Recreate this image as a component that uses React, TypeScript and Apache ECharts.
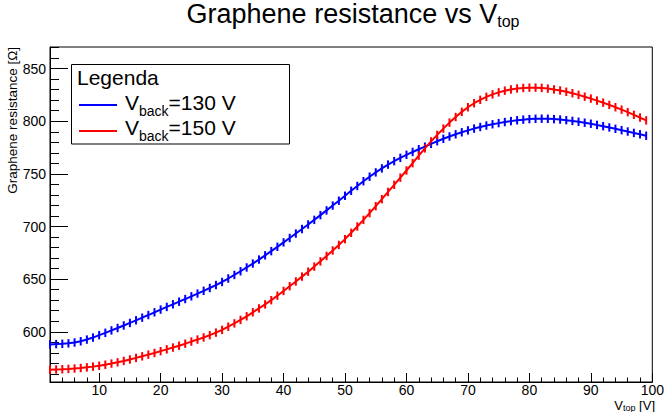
import React, { useEffect, useRef } from 'react';
import * as echarts from 'echarts';

// V_top values [V]
const vTop = [
  2, 3, 4, 5, 6, 7, 8, 9, 10, 11, 12, 13, 14, 15, 16, 17, 18, 19, 20,
  21, 22, 23, 24, 25, 26, 27, 28, 29, 30, 31, 32, 33, 34, 35, 36, 37, 38, 39, 40,
  41, 42, 43, 44, 45, 46, 47, 48, 49, 50, 51, 52, 53, 54, 55, 56, 57, 58, 59, 60,
  61, 62, 63, 64, 65, 66, 67, 68, 69, 70, 71, 72, 73, 74, 75, 76, 77, 78, 79, 80,
  81, 82, 83, 84, 85, 86, 87, 88, 89, 90, 91, 92, 93, 94, 95, 96, 97, 98, 99,
];

// Graphene resistance [Ω] at V_back = 130 V
const rBack130 = [
  588.0, 588.3, 588.6, 589.0, 589.8, 591.0, 592.6, 594.5, 596.8, 599.0, 601.3, 603.6, 606.0, 608.4, 610.9, 613.4, 615.9, 618.5, 621.1,
  623.6, 626.1, 628.6, 631.1, 633.7, 636.3, 638.9, 641.6, 644.4, 647.3, 650.6, 654.0, 657.5, 661.1, 664.8, 668.6, 672.6, 676.6, 680.7, 684.9,
  689.1, 693.3, 697.6, 701.9, 706.3, 710.8, 715.3, 719.9, 724.5, 729.2, 733.9, 738.5, 743.0, 747.3, 751.4, 755.2, 758.8, 762.1, 765.2, 768.1,
  770.8, 773.4, 775.8, 778.5, 781.0, 783.3, 785.5, 787.6, 789.5, 791.3, 793.0, 794.5, 795.9, 797.1, 798.2, 799.2, 800.1, 800.9, 801.5, 802.0,
  802.3, 802.4, 802.3, 802.0, 801.6, 801.0, 800.3, 799.5, 798.6, 797.6, 796.5, 795.3, 794.1, 792.8, 791.5, 790.2, 788.9, 787.6, 786.2,
];

// Graphene resistance [Ω] at V_back = 150 V
const rBack150 = [
  564.0, 564.2, 564.4, 564.7, 565.1, 565.6, 566.2, 566.9, 567.7, 568.7, 569.8, 571.0, 572.3, 573.7, 575.2, 576.7, 578.3, 579.9, 581.6,
  583.3, 585.0, 586.8, 588.7, 590.7, 592.6, 594.6, 596.8, 599.2, 601.8, 604.8, 608.0, 611.3, 614.7, 618.5, 622.2, 626.0, 630.0, 634.3, 638.8,
  643.3, 647.8, 652.4, 657.1, 661.9, 666.9, 672.0, 677.2, 682.5, 688.0, 694.0, 700.0, 706.3, 712.7, 719.3, 726.0, 732.8, 739.6, 746.4, 753.2,
  760.2, 767.3, 774.2, 780.8, 787.0, 793.0, 798.7, 804.0, 808.9, 813.3, 817.1, 820.3, 823.1, 825.5, 827.4, 829.0, 830.2, 831.1, 831.6, 831.9,
  831.9, 831.6, 831.0, 830.2, 829.2, 828.0, 826.6, 825.0, 823.3, 821.5, 819.6, 817.6, 815.5, 813.3, 811.0, 808.6, 806.1, 803.5, 800.8,
];

// error bar half-height [Ω]
const errBack130 = 4;
const errBack150 = 4;

const xMajorTicks = [10, 20, 30, 40, 50, 60, 70, 80, 90, 100];
const xMinorTicks = [
  2, 4, 6, 8, 12, 14, 16, 18, 22, 24, 26, 28, 32, 34, 36, 38, 42, 44, 46, 48,
  52, 54, 56, 58, 62, 64, 66, 68, 72, 74, 76, 78, 82, 84, 86, 88, 92, 94, 96, 98,
];
const yMajorTicks = [600, 650, 700, 750, 800, 850];
const yMinorTicks = [
  560, 570, 580, 590, 610, 620, 630, 640, 660, 670, 680, 690, 710, 720, 730, 740,
  760, 770, 780, 790, 810, 820, 830, 840, 860, 870,
];

const FONT = '"Liberation Sans", Arial, Helvetica, sans-serif';
const BLUE = '#0000ff';
const RED = '#ff0000';

const X_MIN = 2;
const X_MAX = 100;
const Y_MIN = 552.3;
const Y_MAX = 870.5;

function errorSeries(vals: number[], err: number, color: string) {
  return {
    type: 'custom',
    xAxisIndex: 0,
    yAxisIndex: 0,
    silent: true,
    encode: { x: 0, y: 1 },
    data: vTop.map((x, i) => [x, vals[i], err]),
    renderItem: (params: any, api: any) => {
      const x = api.value(0);
      const y = api.value(1);
      const e = api.value(2);
      const p1 = api.coord([x, y - e]);
      const p2 = api.coord([x, y + e]);
      return {
        type: 'line',
        shape: { x1: p1[0], y1: p1[1], x2: p2[0], y2: p2[1] },
        style: { stroke: color, lineWidth: 2 },
      };
    },
  };
}

function lineSeries(name: string, vals: number[], color: string) {
  return {
    name,
    type: 'line',
    xAxisIndex: 0,
    yAxisIndex: 0,
    showSymbol: false,
    symbol: 'none',
    silent: true,
    data: vTop.map((x, i) => [x, vals[i]]),
    lineStyle: { color, width: 2 },
  };
}

export default function App() {
  const ref = useRef<HTMLDivElement>(null);

  useEffect(() => {
    if (!ref.current) return;
    const chart = echarts.init(ref.current, null, { renderer: 'svg' });

    const axisCommon = {
      type: 'value',
      splitLine: { show: false },
    };

    const option: any = {
      animation: false,
      backgroundColor: '#ffffff',
      grid: {
        left: 50,
        right: 12,
        top: 47,
        bottom: 30,
        show: true,
        borderColor: '#000',
        borderWidth: 1,
        backgroundColor: 'transparent',
      },
      xAxis: [
        {
          ...axisCommon,
          min: X_MIN,
          max: X_MAX,
          position: 'bottom',
          axisLine: { show: true, lineStyle: { color: '#000', width: 1 } },
          axisTick: {
            show: true,
            inside: true,
            length: 9,
            customValues: xMajorTicks,
            lineStyle: { color: '#000', width: 1 },
          },
          axisLabel: {
            show: true,
            customValues: xMajorTicks,
            color: '#000',
            fontFamily: FONT,
            fontSize: 14,
            margin: 1,
          },
        },
        {
          ...axisCommon,
          min: X_MIN,
          max: X_MAX,
          position: 'bottom',
          offset: 0,
          axisLine: { show: false },
          axisTick: {
            show: true,
            inside: true,
            length: 4.5,
            customValues: xMinorTicks,
            lineStyle: { color: '#000', width: 1 },
          },
          axisLabel: { show: false },
        },
      ],
      yAxis: [
        {
          ...axisCommon,
          min: Y_MIN,
          max: Y_MAX,
          position: 'left',
          axisLine: { show: true, lineStyle: { color: '#000', width: 1 } },
          axisTick: {
            show: true,
            inside: true,
            length: 18,
            customValues: yMajorTicks,
            lineStyle: { color: '#000', width: 1 },
          },
          axisLabel: {
            show: true,
            customValues: yMajorTicks,
            color: '#000',
            fontFamily: FONT,
            fontSize: 14,
            margin: 4,
          },
        },
        {
          ...axisCommon,
          min: Y_MIN,
          max: Y_MAX,
          position: 'left',
          offset: 0,
          axisLine: { show: false },
          axisTick: {
            show: true,
            inside: true,
            length: 9,
            customValues: yMinorTicks,
            lineStyle: { color: '#000', width: 1 },
          },
          axisLabel: { show: false },
        },
      ],
      series: [
        lineSeries('Vback=130 V', rBack130, BLUE),
        errorSeries(rBack130, errBack130, BLUE),
        lineSeries('Vback=150 V', rBack150, RED),
        errorSeries(rBack150, errBack150, RED),
      ],
      graphic: [
        // title
        {
          type: 'text',
          x: 353,
          y: 0,
          z: 100,
          style: {
            text: '{m|Graphene resistance vs V}{s|top}',
            align: 'center',
            verticalAlign: 'top',
            fill: '#000',
            rich: {
              m: { fontFamily: FONT, fontSize: 27, lineHeight: 30, verticalAlign: 'top', fill: '#000' },
              s: { fontFamily: FONT, fontSize: 16, lineHeight: 16, padding: [13, 0, 0, 0], verticalAlign: 'top', fill: '#000' },
            },
          },
        },
        // y axis title
        {
          type: 'text',
          x: 12.5,
          y: 47,
          rotation: Math.PI / 2,
          z: 100,
          style: {
            text: 'Graphene resistance [Ω]',
            align: 'right',
            verticalAlign: 'middle',
            fontFamily: FONT,
            fontSize: 13.5,
            fill: '#000',
          },
        },
        // x axis title
        {
          type: 'text',
          x: 655,
          y: 398.5,
          z: 100,
          style: {
            text: '{m|V}{s|top}{m| [V]}',
            align: 'right',
            verticalAlign: 'top',
            fill: '#000',
            rich: {
              m: { fontFamily: FONT, fontSize: 13, lineHeight: 13, verticalAlign: 'top', fill: '#000' },
              s: { fontFamily: FONT, fontSize: 9, lineHeight: 9, padding: [5, 0, 0, 0], verticalAlign: 'top', fill: '#000' },
            },
          },
        },
        // legend
        {
          type: 'group',
          z: 100,
          children: [
            {
              type: 'rect',
              shape: { x: 71.5, y: 64.5, width: 218, height: 79.5 },
              style: { fill: '#fff', stroke: '#000', lineWidth: 1 },
            },
            {
              type: 'text',
              x: 77,
              y: 77,
              style: {
                text: 'Legenda',
                align: 'left',
                verticalAlign: 'middle',
                fontFamily: FONT,
                fontSize: 21,
                fill: '#000',
              },
            },
            {
              type: 'line',
              shape: { x1: 79, y1: 105, x2: 117, y2: 105 },
              style: { stroke: BLUE, lineWidth: 2 },
            },
            {
              type: 'text',
              x: 125,
              y: 91.7,
              style: {
                text: '{m|V}{s|back}{m|=130 V}',
                align: 'left',
                verticalAlign: 'top',
                fill: '#000',
                rich: {
                  m: { fontFamily: FONT, fontSize: 21, lineHeight: 24, verticalAlign: 'top', fill: '#000' },
                  s: { fontFamily: FONT, fontSize: 14, lineHeight: 14, padding: [12, 0, 0, 0], verticalAlign: 'top', fill: '#000' },
                },
              },
            },
            {
              type: 'line',
              shape: { x1: 79, y1: 131, x2: 117, y2: 131 },
              style: { stroke: RED, lineWidth: 2 },
            },
            {
              type: 'text',
              x: 125,
              y: 117.2,
              style: {
                text: '{m|V}{s|back}{m|=150 V}',
                align: 'left',
                verticalAlign: 'top',
                fill: '#000',
                rich: {
                  m: { fontFamily: FONT, fontSize: 21, lineHeight: 24, verticalAlign: 'top', fill: '#000' },
                  s: { fontFamily: FONT, fontSize: 14, lineHeight: 14, padding: [12, 0, 0, 0], verticalAlign: 'top', fill: '#000' },
                },
              },
            },
          ],
        },
      ],
    };

    chart.setOption(option);
    return () => {
      chart.dispose();
    };
  }, []);

  return (
    <div
      ref={ref}
      style={{ position: 'fixed', left: 0, top: 0, width: 667, height: 412, background: '#fff' }}
    />
  );
}
